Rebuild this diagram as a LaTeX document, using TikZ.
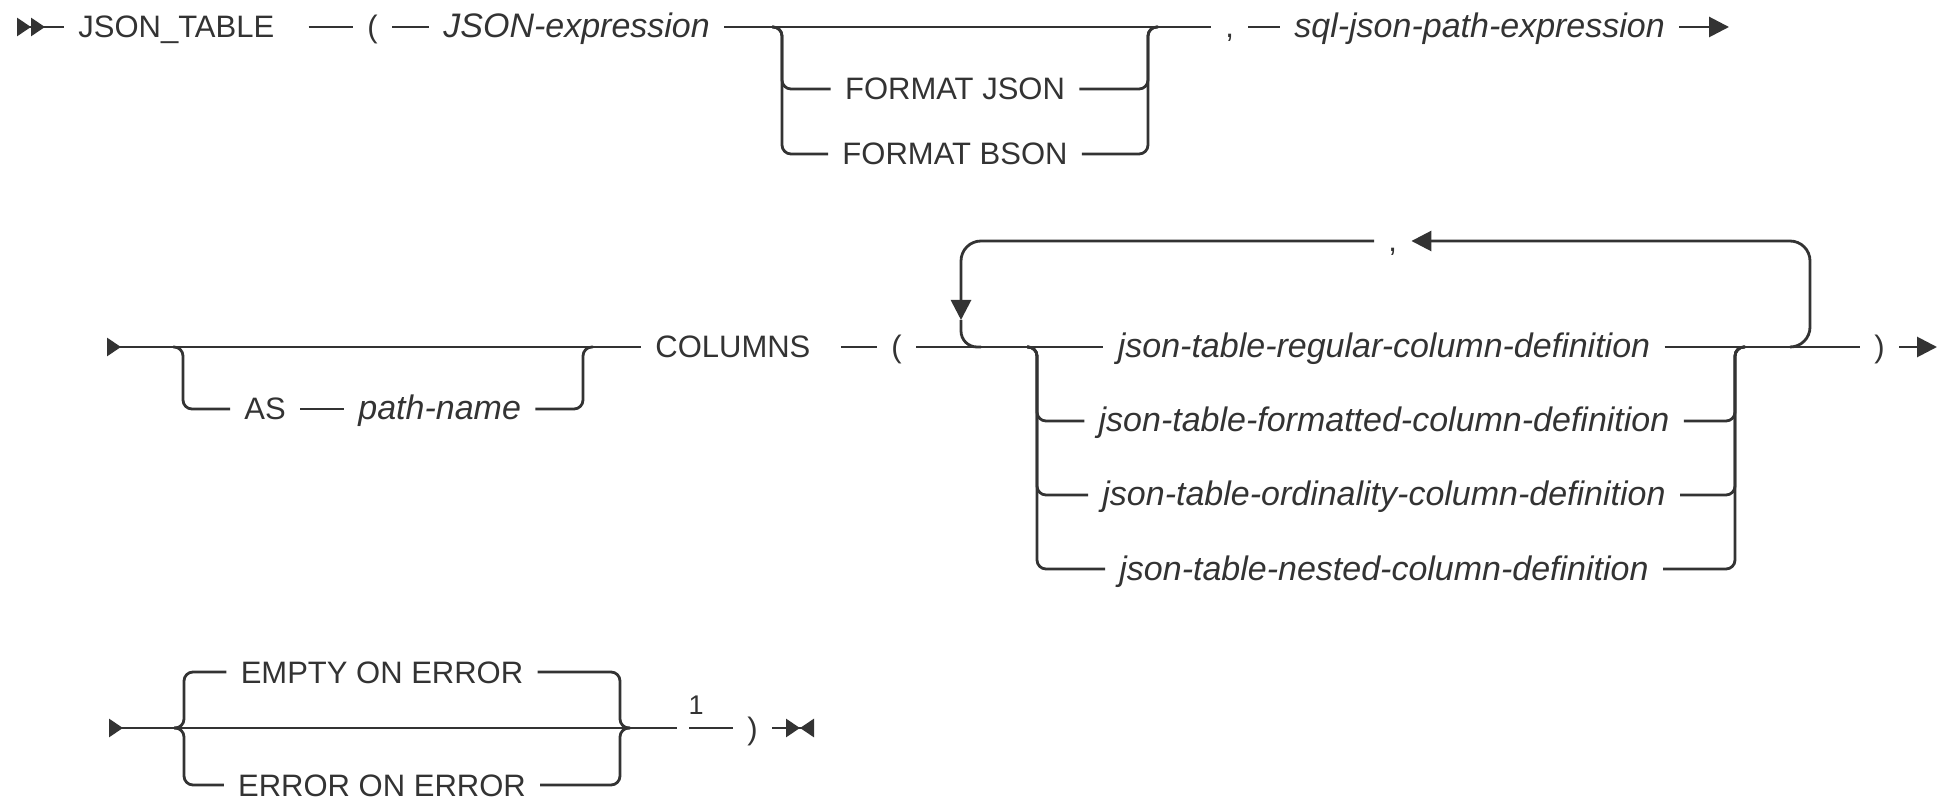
\documentclass[tikz,border=0pt]{standalone}
\usepackage{fontspec}
\setmainfont{Liberation Sans}
\usetikzlibrary{arrows.meta,positioning}

\begin{document}
\begin{tikzpicture}[
  x=0.5pt, y=-0.5pt,
  line width=1.4pt, color=black!80,
  tok/.style={anchor=west, inner xsep=6.5pt, inner ysep=0pt, text height=11pt, text depth=0pt,
              font=\fontsize{15.5pt}{18pt}\selectfont},
  var/.style={tok, font=\fontsize{17pt}{20pt}\selectfont\itshape},
  rail/.style={rounded corners=4.5pt},
  loopc/.style={rounded corners=10pt},
  tip/.style={-{Triangle[length=10pt,width=10pt]}},
  startmark/.style={{Triangle[reversed,length=7pt,width=9pt]}-},
  startmark2/.style={{Triangle[reversed,length=7pt,width=9pt]Triangle[reversed,length=7pt,width=9pt]}-},
  endmark/.style={-{Triangle[length=7pt,width=9pt]Triangle[reversed,length=7pt,width=9pt]}}
]
\useasboundingbox (0,0) rectangle (1947,801);

% first line
\coordinate (s1) at (17,27);
\node[tok] (jt) at (64,27) {JSON\_TABLE};
\node[tok] (lp1) at (353,27) {(};
\node[var] (jx) at (429,27) {JSON-expression};
\node[tok, anchor=center] (fj) at (955,89) {FORMAT JSON};
\node[tok, anchor=center] (fb) at (955,154) {FORMAT BSON};
\node[tok] (cm1) at (1211,27) {,};
\node[var] (sq) at (1280,27) {sql-json-path-expression};
\coordinate (e1) at (1729,27);
\coordinate (fmL) at (782,27);
\coordinate (fmR) at (1148,27);

\draw[startmark2] (s1) -- (jt);
\draw[shorten <=10pt] (jt) -- (lp1);
\draw (lp1) -- (jx);
\draw (jx) -- (cm1);
\foreach \f in {fj,fb} {
  \draw[rail] ([xshift=-5pt]fmL) -- (fmL) -- (fmL |- \f) -- (\f.west);
  \draw[rail] (\f.east) -- (fmR |- \f) -- (fmR) -- ([xshift=5pt]fmR);
}
\draw (cm1) -- (sq);
\draw[tip] (sq) -- (e1);

% second line
\coordinate (s2) at (107,347);
\node[tok] (as) at (230,409) {AS};
\node[var] (pn) at (344,409) {path-name};
\coordinate (asL) at (183,347);
\coordinate (asR) at (583,347);
\node[tok] (col) at (641,347) {COLUMNS};
\node[tok] (lp2) at (877,347) {(};
\node[var, anchor=center] (cd1) at (1384,347) {json-table-regular-column-definition};
\node[var, anchor=center] (cd2) at (1384,421) {json-table-formatted-column-definition};
\node[var, anchor=center] (cd3) at (1384,495) {json-table-ordinality-column-definition};
\node[var, anchor=center] (cd4) at (1384,569) {json-table-nested-column-definition};
\node[tok] (cm2) at (1374,241) {,};
\node[tok] (rp2) at (1860,347) {)};
\coordinate (e2) at (1937,347);
\coordinate (cdL) at (1037,347);
\coordinate (cdR) at (1735,347);
\coordinate (lpL) at (961,347);
\coordinate (lpR) at (1810,347);
\coordinate (lpA) at (961,320);

\draw[startmark] (s2) -- (col);
\draw[rail] ([xshift=-5pt]asL) -- (asL) -- (asL |- as) -- (as.west);
\draw (as) -- (pn);
\draw[rail] (pn.east) -- (asR |- pn) -- (asR) -- ([xshift=5pt]asR);
\draw[shorten <=8pt] (col) -- (lp2);
\draw (lp2) -- (cd1);
\draw (cd1) -- (rp2);
\foreach \n in {2,3,4} {
  \draw[rail] ([xshift=-5pt]cdL) -- (cdL) -- (cdL |- cd\n) -- (cd\n.west);
  \draw[rail] (cd\n.east) -- (cdR |- cd\n) -- (cdR) -- ([xshift=5pt]cdR);
}
% repeat loop
\draw[loopc, tip] ([xshift=-10pt]lpR) -- (lpR) -- (lpR |- cm2) -- (cm2.east);
\draw[loopc, tip] (cm2.west) -- (lpL |- cm2) -- (lpA);
\draw[rounded corners=8pt] (lpA) -- (lpL) -- ([xshift=10pt]lpL);
\draw[tip] (rp2) -- (e2);

% third line
\coordinate (s3) at (109,728);
\node[tok, anchor=center] (em) at (382,672) {EMPTY ON ERROR};
\node[tok, anchor=center] (er) at (382,785) {ERROR ON ERROR};
\coordinate (emL) at (184,728);
\coordinate (emR) at (620,728);
\coordinate (n1) at (677,728);
\coordinate (n1b) at (689,728);
\node[font=\fontsize{13.5pt}{15pt}\selectfont, inner sep=0pt] (ft) at (696,705) {1};
\node[tok] (rp3) at (733,728) {)};
\coordinate (e3) at (814,728);

\draw[startmark] (s3) -- (n1);
\foreach \f in {em,er} {
  \draw[rail] ([xshift=-5pt]emL) -- (emL) -- (emL |- \f) -- (\f.west);
  \draw[rail] (\f.east) -- (emR |- \f) -- (emR) -- ([xshift=5pt]emR);
}
\draw (n1b) -- (rp3);
\draw[endmark] (rp3) -- (e3);
\end{tikzpicture}
\end{document}
